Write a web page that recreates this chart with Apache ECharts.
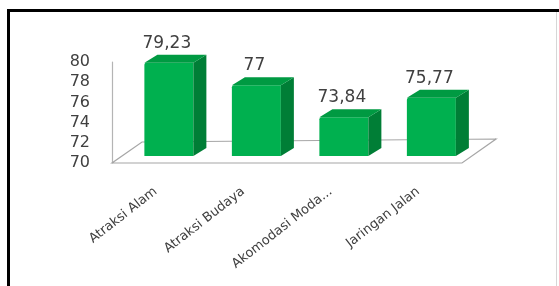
<!DOCTYPE html>
<html>
<head>
<meta charset="utf-8">
<script src="https://cdn.jsdelivr.net/npm/echarts@6/dist/echarts.min.js"></script>
<style>
html,body{margin:0;padding:0;background:#fff;}
#c{width:559px;height:286px;}
</style>
</head>
<body>
<div id="c"></div>
<script>
const categories = ['Atraksi Alam', 'Atraksi Budaya', 'Akomodasi Moda...', 'Jaringan Jalan'];
const values = [79.23, 77, 73.84, 75.77];
const yMin = 70, yMax = 80, yStep = 2;

const chart = echarts.init(document.getElementById('c'), null, {renderer: 'canvas'});

function fmt(v) { return String(v).replace('.', ','); }

function renderFloor(params, api) {
  const cs = params.coordSys;
  const x0 = cs.x, x1 = cs.x + cs.width, yb = cs.y + cs.height;
  const dx = 34, dy = -24;
  return {
    type: 'polygon',
    shape: {points: [[x0, yb], [x1, yb], [x1 + dx, yb + dy], [x0 + dx - 4, yb + dy + 3]]},
    style: {fill: '#ffffff', stroke: '#a6a6a6', lineWidth: 1.2},
    z2: 0
  };
}

function renderBar(params, api) {
  const i = api.value(0), v = api.value(1);
  const top = api.coord([i, v]);
  const base = api.coord([i, yMin]);
  const band = api.size([1, 0])[0];
  const w = band * 0.56;
  const cx = top[0] + band * 0.15;
  const L = cx - w / 2, R = cx + w / 2;
  const T = top[1] - 7, B = base[1] - 7;
  const dx = 13, dy = -8;
  return {
    type: 'group',
    children: [
      {type: 'rect', shape: {x: L, y: T, width: w, height: B - T, r: [2, 0, 0, 0]},
       style: {fill: '#00b04f'}},
      {type: 'polygon', shape: {points: [[R, T], [R + dx, T + dy], [R + dx, B + dy], [R, B]]},
       style: {fill: '#007e36'}},
      {type: 'polygon', shape: {points: [[L, T], [R, T], [R + dx, T + dy], [L + dx, T + dy]]},
       style: {fill: '#009a42'}},
      {type: 'text', style: {text: fmt(v), x: cx - 2, y: T - 11, align: 'center', verticalAlign: 'bottom',
        fill: '#404040', font: '17px "DejaVu Sans"'}}
    ]
  };
}

chart.setOption({
  animation: false,
  backgroundColor: '#ffffff',
  grid: {left: 112, right: 97, top: 62, bottom: 123, containLabel: false},
  xAxis: {
    type: 'category',
    data: categories,
    axisLine: {show: false},
    axisTick: {show: false},
    axisLabel: {rotate: 38, margin: 27, color: '#404040', fontSize: 13, fontFamily: 'DejaVu Sans', interval: 0}
  },
  yAxis: {
    type: 'value',
    min: yMin, max: yMax, interval: yStep,
    axisLine: {show: true, lineStyle: {color: '#b4b4b4', width: 1.2}},
    axisTick: {show: false},
    splitLine: {show: false},
    axisLabel: {margin: 22, color: '#404040', fontSize: 16, fontFamily: 'DejaVu Sans', align: 'right'}
  },
  series: [
    {type: 'custom', renderItem: renderFloor, data: [[0, yMin]], z: 1, silent: true, clip: false},
    {type: 'custom', renderItem: renderBar, data: values.map((v, i) => [i, v]), z: 2, clip: false}
  ],
  graphic: [
    {type: 'line', shape: {x1: 7, y1: 10.5, x2: 559, y2: 10.5}, style: {stroke: '#000', lineWidth: 3}, z: 100},
    {type: 'line', shape: {x1: 8.5, y1: 9, x2: 8.5, y2: 286}, style: {stroke: '#000', lineWidth: 3}, z: 100},
    {type: 'line', shape: {x1: 556.5, y1: 12, x2: 556.5, y2: 286}, style: {stroke: '#d6d6d6', lineWidth: 1}, z: 100}
  ]
});
</script>
</body>
</html>
